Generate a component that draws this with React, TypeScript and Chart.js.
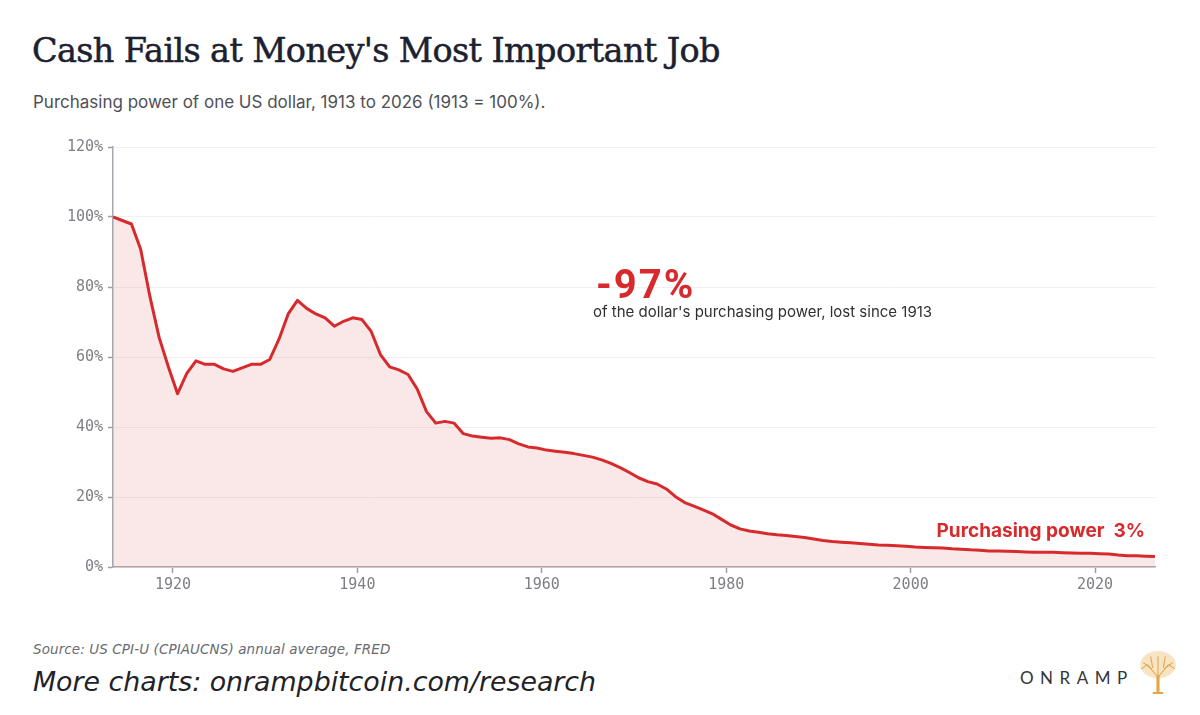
import React, { useEffect, useRef } from "react";
import { Chart, registerables } from "chart.js";

Chart.register(...registerables);

const years: number[] = [
  1913, 1914, 1915, 1916, 1917, 1918, 1919, 1920, 1921, 1922, 1923, 1924, 1925, 1926, 1927, 1928, 1929,
  1930, 1931, 1932, 1933, 1934, 1935, 1936, 1937, 1938, 1939, 1940, 1941, 1942, 1943, 1944, 1945, 1946,
  1947, 1948, 1949, 1950, 1951, 1952, 1953, 1954, 1955, 1956, 1957, 1958, 1959, 1960, 1961, 1962, 1963,
  1964, 1965, 1966, 1967, 1968, 1969, 1970, 1971, 1972, 1973, 1974, 1975, 1976, 1977, 1978, 1979, 1980,
  1981, 1982, 1983, 1984, 1985, 1986, 1987, 1988, 1989, 1990, 1991, 1992, 1993, 1994, 1995, 1996, 1997,
  1998, 1999, 2000, 2001, 2002, 2003, 2004, 2005, 2006, 2007, 2008, 2009, 2010, 2011, 2012, 2013, 2014,
  2015, 2016, 2017, 2018, 2019, 2020, 2021, 2022, 2023, 2024, 2025, 2026,
];

const purchasingPower: number[] = [
  100.0, 99.0, 98.0, 90.8, 77.3, 65.6, 57.2, 49.5, 55.3, 58.9, 57.9, 57.9, 56.6, 55.9, 56.9, 57.9, 57.9,
  59.3, 65.1, 72.3, 76.2, 73.9, 72.3, 71.2, 68.8, 70.2, 71.2, 70.7, 67.3, 60.7, 57.2, 56.3, 55.0, 50.8,
  44.4, 41.1, 41.6, 41.1, 38.1, 37.4, 37.1, 36.8, 36.9, 36.4, 35.2, 34.3, 34.0, 33.4, 33.1, 32.8, 32.4,
  31.9, 31.4, 30.6, 29.6, 28.4, 27.0, 25.5, 24.4, 23.7, 22.3, 20.1, 18.4, 17.4, 16.3, 15.2, 13.6, 12.0,
  10.9, 10.3, 9.9, 9.5, 9.2, 9.0, 8.7, 8.4, 8.0, 7.6, 7.3, 7.1, 6.9, 6.7, 6.5, 6.3, 6.2,
  6.1, 5.9, 5.7, 5.6, 5.5, 5.4, 5.2, 5.1, 4.9, 4.8, 4.6, 4.6, 4.5, 4.4, 4.3, 4.2, 4.2,
  4.2, 4.1, 4.0, 3.9, 3.9, 3.8, 3.7, 3.4, 3.2, 3.2, 3.1, 3.0,
];

const xTickYears: number[] = [1920, 1940, 1960, 1980, 2000, 2020];
const yTicks: number[] = [0, 20, 40, 60, 80, 100, 120];

const RED = "#d72a2c";
const TICK_FONT = "'DejaVu Sans Mono', 'Liberation Mono', monospace";

function PlotChart() {
  const ref = useRef<HTMLCanvasElement | null>(null);
  useEffect(() => {
    if (!ref.current) return;
    // annual averages are centred on mid-year
    const points = years.map((yr, i) => ({ x: yr + 0.5, y: purchasingPower[i] }));
    const chart = new Chart(ref.current, {
      type: "line",
      data: {
        datasets: [
          {
            label: "Purchasing power",
            data: points,
            borderColor: RED,
            borderWidth: 3,
            backgroundColor: "rgba(226, 120, 124, 0.18)",
            fill: "origin",
            pointRadius: 0,
            tension: 0,
            borderJoinStyle: "round",
          },
        ],
      },
      options: {
        animation: false,
        responsive: false,
        maintainAspectRatio: false,
        layout: { padding: { left: 0, right: 45, top: 27, bottom: 0 } },
        plugins: { legend: { display: false }, tooltip: { enabled: false } },
        scales: {
          x: {
            type: "linear",
            min: years[0] + 0.5,
            max: years[years.length - 1] + 0.5,
            afterBuildTicks: (scale: any) => {
              scale.ticks = xTickYears.map((v) => ({ value: v }));
            },
            afterFit: (scale: any) => {
              scale.height = 43;
            },
            ticks: {
              color: "#7e7e86",
              font: { family: TICK_FONT, size: 15 },
              padding: 3,
              maxRotation: 0,
              callback: (v: any) => String(v),
            },
            grid: {
              drawOnChartArea: false,
              drawTicks: true,
              tickLength: 6,
              tickColor: "#9c9ca4",
              tickWidth: 1.5,
            },
            border: { color: "#a8a8b0", width: 1.5 },
          },
          y: {
            min: 0,
            max: 120,
            afterBuildTicks: (scale: any) => {
              scale.ticks = yTicks.map((v) => ({ value: v }));
            },
            afterFit: (scale: any) => {
              scale.width = 113;
            },
            ticks: {
              color: "#7e7e86",
              font: { family: TICK_FONT, size: 15 },
              padding: 5,
              callback: (v: any) => v + "%",
            },
            grid: {
              color: "#f0f0f2",
              lineWidth: 1,
              drawTicks: true,
              tickLength: 5,
              tickColor: "#9c9ca4",
              tickWidth: 1.5,
            },
            border: { color: "#a8a8b0", width: 1.5 },
          },
        },
      },
    });
    return () => chart.destroy();
  }, []);
  return (
    <canvas
      ref={ref}
      width={1200}
      height={490}
      style={{ position: "absolute", left: 0, top: 120, width: 1200, height: 490 }}
    />
  );
}

function TreeIcon() {
  const branches = [
    "M18 40 L18 24",
    "M18 26 L8 14",
    "M18 26 L28 14",
    "M18 24 L18 6",
    "M12 18 L4 12",
    "M24 18 L32 12",
    "M13 17 L11 6",
    "M23 17 L25 6",
    "M8 14 L2 18",
    "M28 14 L34 18",
  ];
  return (
    <svg
      width={38}
      height={44}
      viewBox="0 0 36 42"
      style={{ position: "absolute", left: 1139, top: 650 }}
    >
      <ellipse cx={18} cy={14} rx={17} ry={13} fill="#f3d9ad" opacity={0.7} />
      {branches.map((d, i) => (
        <path key={i} d={d} stroke="#e4a747" strokeWidth={i === 0 ? 3 : 1} fill="none" />
      ))}
      <path d="M13 41 L23 41" stroke="#e4a747" strokeWidth={2} />
    </svg>
  );
}

export default function App() {
  useEffect(() => {
    document.body.style.margin = "0";
    document.body.style.background = "#ffffff";
  }, []);
  return (
    <div
      style={{
        position: "relative",
        width: 1200,
        height: 715,
        background: "#ffffff",
        overflow: "hidden",
      }}
    >
      <div
        style={{
          position: "absolute",
          left: 32,
          top: 30,
          fontFamily: "'DejaVu Serif', 'Liberation Serif', serif",
          fontSize: 33.5,
          color: "#1c2130",
          whiteSpace: "nowrap",
          lineHeight: "42px",
          letterSpacing: -0.65,
          WebkitTextStroke: "0.5px #1c2130",
        }}
      >
        Cash Fails at Money's Most Important Job
      </div>
      <div
        style={{
          position: "absolute",
          left: 33,
          top: 92,
          fontFamily: "Inter, Roboto, sans-serif",
          fontSize: 17,
          color: "#4f4f55",
          whiteSpace: "nowrap",
          lineHeight: "21px",
        }}
      >
        Purchasing power of one US dollar, 1913 to 2026 (1913 = 100%).
      </div>
      <PlotChart />
      <div
        style={{
          position: "absolute",
          left: 596,
          top: 262,
          fontFamily: "Roboto, 'Noto Sans', sans-serif",
          fontWeight: 700,
          fontSize: 40,
          color: RED,
          letterSpacing: 2,
          whiteSpace: "nowrap",
          lineHeight: "46px",
        }}
      >
        -97%
      </div>
      <div
        style={{
          position: "absolute",
          left: 593,
          top: 303,
          fontFamily: "Inter, Roboto, sans-serif",
          fontSize: 15,
          color: "#303034",
          whiteSpace: "nowrap",
          lineHeight: "18px",
        }}
      >
        of the dollar's purchasing power, lost since 1913
      </div>
      <div
        style={{
          position: "absolute",
          right: 1200 - 1145,
          top: 519,
          fontFamily: "Inter, Roboto, sans-serif",
          fontWeight: 700,
          fontSize: 19,
          color: RED,
          whiteSpace: "pre",
          lineHeight: "23px",
        }}
      >
        {"Purchasing power  3%"}
      </div>
      <div
        style={{
          position: "absolute",
          left: 33,
          top: 640,
          fontFamily: "'DejaVu Sans', 'Open Sans', sans-serif",
          fontStyle: "italic",
          fontSize: 13.5,
          color: "#6a6a70",
          whiteSpace: "nowrap",
          lineHeight: "18px",
          letterSpacing: 0.1,
        }}
      >
        Source: US CPI-U (CPIAUCNS) annual average, FRED
      </div>
      <div
        style={{
          position: "absolute",
          left: 33,
          top: 665,
          fontFamily: "'DejaVu Sans', 'Open Sans', sans-serif",
          fontStyle: "italic",
          fontSize: 26.8,
          color: "#222226",
          whiteSpace: "nowrap",
          lineHeight: "34px",
        }}
      >
        More charts: onrampbitcoin.com/research
      </div>
      <div
        style={{
          position: "absolute",
          left: 1020,
          top: 667,
          fontFamily: "Lato, 'Open Sans', sans-serif",
          fontSize: 17,
          color: "#34363a",
          letterSpacing: 6.5,
          whiteSpace: "nowrap",
          lineHeight: "22px",
        }}
      >
        ONRAMP
      </div>
      <TreeIcon />
    </div>
  );
}
